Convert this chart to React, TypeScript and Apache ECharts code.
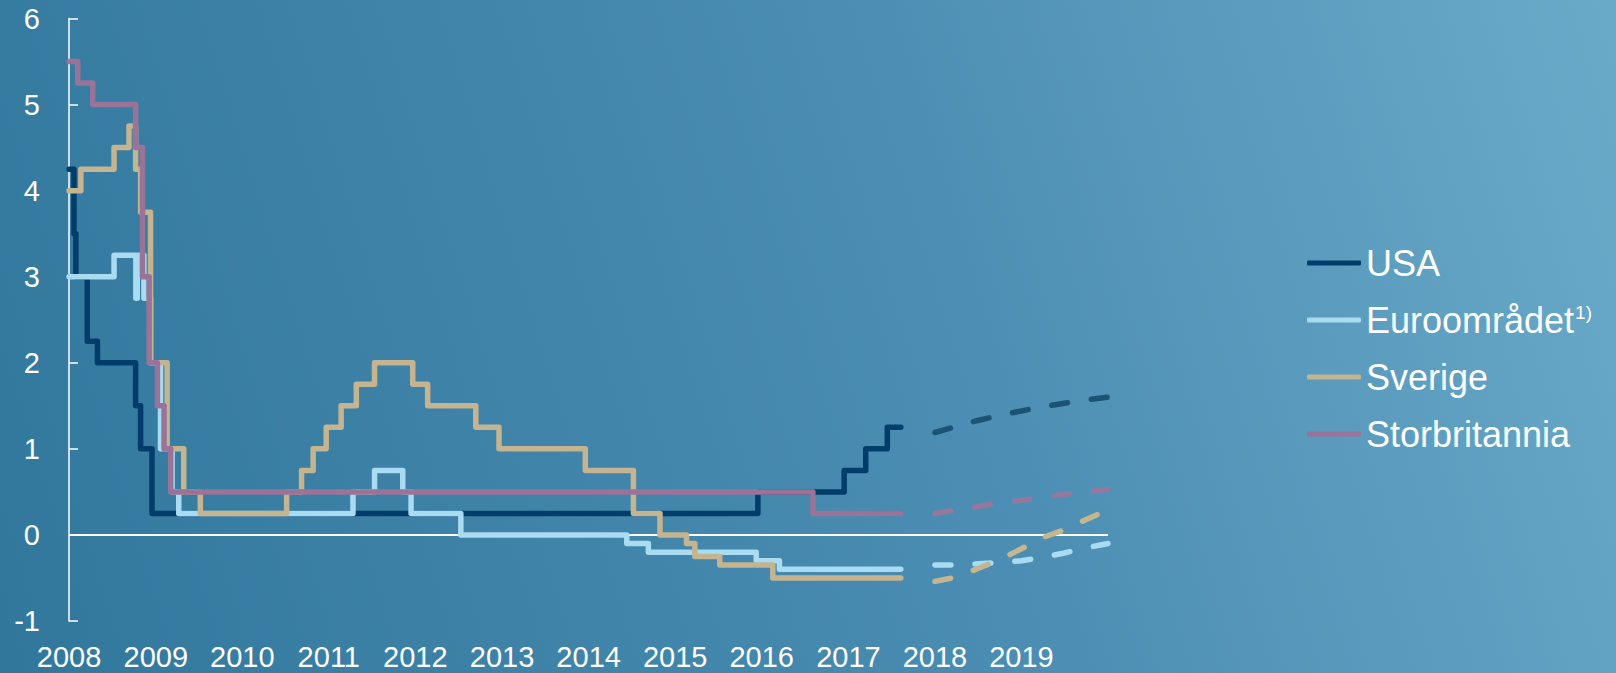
import React, { useEffect, useRef } from "react";
import * as echarts from "echarts";

// Policy rates, [date of change, rate in %]
const usaRates: [string, number][] = [
  ["2008-01-01", 4.25], ["2008-01-22", 3.5], ["2008-01-30", 3.0], ["2008-03-18", 2.25],
  ["2008-04-30", 2.0], ["2008-10-08", 1.5], ["2008-10-29", 1.0], ["2008-12-16", 0.25],
  ["2015-12-16", 0.5], ["2016-12-14", 0.75], ["2017-03-15", 1.0], ["2017-06-14", 1.25],
  ["2017-08-10", 1.25],
];
const euroRates: [string, number][] = [
  ["2008-01-01", 3.0], ["2008-07-09", 3.25], ["2008-10-09", 2.75], ["2008-10-15", 3.25],
  ["2008-11-12", 2.75], ["2008-12-10", 2.0], ["2009-01-21", 1.0], ["2009-03-11", 0.5],
  ["2009-04-08", 0.25], ["2011-04-13", 0.5], ["2011-07-13", 0.75], ["2011-11-09", 0.5],
  ["2011-12-14", 0.25], ["2012-07-11", 0.0], ["2014-06-11", -0.1], ["2014-09-10", -0.2],
  ["2015-12-09", -0.3], ["2016-03-16", -0.4], ["2017-08-10", -0.4],
];
const swedenRates: [string, number][] = [
  ["2008-01-01", 4.0], ["2008-02-20", 4.25], ["2008-07-09", 4.5], ["2008-09-10", 4.75],
  ["2008-10-08", 4.25], ["2008-10-29", 3.75], ["2008-12-10", 2.0], ["2009-02-18", 1.0],
  ["2009-04-29", 0.5], ["2009-07-08", 0.25], ["2010-07-07", 0.5], ["2010-09-08", 0.75],
  ["2010-10-27", 1.0], ["2010-12-21", 1.25], ["2011-02-22", 1.5], ["2011-04-27", 1.75],
  ["2011-07-13", 2.0], ["2011-12-21", 1.75], ["2012-02-22", 1.5], ["2012-09-12", 1.25],
  ["2012-12-19", 1.0], ["2013-12-18", 0.75], ["2014-07-09", 0.25], ["2014-10-29", 0.0],
  ["2015-02-18", -0.1], ["2015-03-25", -0.25], ["2015-07-08", -0.35], ["2016-02-17", -0.5],
  ["2017-08-10", -0.5],
];
const ukRates: [string, number][] = [
  ["2008-01-01", 5.5], ["2008-02-07", 5.25], ["2008-04-10", 5.0], ["2008-10-08", 4.5],
  ["2008-11-06", 3.0], ["2008-12-04", 2.0], ["2009-01-08", 1.5], ["2009-02-05", 1.0],
  ["2009-03-05", 0.5], ["2016-08-04", 0.25], ["2017-08-10", 0.25],
];

// Forecasts (market expectations), quarterly
const forecastDates = [
  "2018-01-01", "2018-04-01", "2018-07-01", "2018-10-01", "2019-01-01",
  "2019-04-01", "2019-07-01", "2019-10-01", "2020-01-01",
];
const usaForecast = [1.19, 1.26, 1.33, 1.39, 1.44, 1.49, 1.53, 1.57, 1.6];
const euroForecast = [-0.35, -0.35, -0.335, -0.32, -0.3, -0.26, -0.21, -0.15, -0.1];
const swedenForecast = [-0.54, -0.49, -0.39, -0.29, -0.16, -0.03, 0.06, 0.18, 0.29];
const ukForecast = [0.25, 0.29, 0.33, 0.37, 0.4, 0.44, 0.47, 0.5, 0.53];

const zeroLine: [string, number][] = [["2008-01-01", 0], ["2020-01-01", 0]];

const seriesNames = ["USA", "Euroområdet", "Sverige", "Storbritannia"];
const yMin = -1;
const yMax = 6;

const FONT = "'Liberation Sans', Arial, Helvetica, sans-serif";
const YEAR_MS = 365 * 24 * 3600 * 1000;

function pair(dates: string[], vals: number[]) {
  return dates.map((d, i) => [d, vals[i]]);
}

export default function App() {
  const ref = useRef<HTMLDivElement>(null);

  useEffect(() => {
    if (!ref.current) return;
    const chart = echarts.init(ref.current, null, { renderer: "svg" });

    const solid = (name: string, data: any, color: string) => ({
      name,
      type: "line",
      data,
      step: "end",
      showSymbol: false,
      symbol: "none",
      color,
      itemStyle: { color },
      lineStyle: { color, width: 5.5, cap: "round", join: "round" },
      z: 3,
    });
    const dashed = (data: any, color: string) => ({
      name: "",
      type: "line",
      data,
      showSymbol: false,
      symbol: "none",
      itemStyle: { color },
      lineStyle: { color, width: 5.5, type: [16, 24], cap: "round" },
      z: 3,
    });

    const option: any = {
      animation: false,
      textStyle: { fontFamily: FONT },
      grid: { left: 69, right: 508, top: 18.5, bottom: 52, containLabel: false },
      legend: {
        data: seriesNames,
        orient: "vertical",
        left: 1302,
        top: 238,
        itemWidth: 54,
        itemHeight: 5,
        itemGap: 17,
        icon: "roundRect",
        textStyle: {
          color: "#ffffff",
          fontSize: 36,
          lineHeight: 40,
          fontFamily: FONT,
          rich: {
            sup: { fontSize: 19, lineHeight: 40, verticalAlign: "top", color: "#ffffff", fontFamily: FONT, padding: [3, 0, 0, 1] },
          },
        },
        formatter: (name: string) => (name === "Euroområdet" ? "Euroområdet{sup|1)}" : name),
      },
      xAxis: {
        type: "time",
        min: "2008-01-01",
        max: "2020-01-01",
        minInterval: YEAR_MS,
        maxInterval: YEAR_MS * 1.01,
        axisLine: { show: false },
        axisTick: { show: false },
        splitLine: { show: false },
        axisLabel: {
          color: "#ffffff",
          fontSize: 29,
          lineHeight: 30,
          margin: 21,
          fontFamily: FONT,
          showMinLabel: true,
          showMaxLabel: false,
          hideOverlap: false,
          formatter: (v: number) => String(new Date(v).getFullYear()),
        },
      },
      yAxis: {
        type: "value",
        min: yMin,
        max: yMax,
        interval: 1,
        axisLine: { show: true, lineStyle: { color: "#ffffff", width: 1.5 } },
        axisTick: { show: true, inside: true, length: 9, lineStyle: { color: "#ffffff", width: 1.5 } },
        splitLine: { show: false },
        axisLabel: { color: "#ffffff", fontSize: 29, margin: 29, fontFamily: FONT },
      },
      series: [
        {
          name: "zero",
          type: "line",
          data: zeroLine,
          showSymbol: false,
          symbol: "none",
          silent: true,
          lineStyle: { color: "#ffffff", width: 2 },
          z: 2,
        },
        solid("USA", usaRates, "#003d6b"),
        solid("Euroområdet", euroRates, "#a9dbf1"),
        solid("Sverige", swedenRates, "#c4b48f"),
        solid("Storbritannia", ukRates, "#9a7398"),
        dashed(pair(forecastDates, usaForecast), "#1c5274"),
        dashed(pair(forecastDates, euroForecast), "#a9dbf1"),
        dashed(pair(forecastDates, swedenForecast), "#c6b68f"),
        dashed(pair(forecastDates, ukForecast), "#94799e"),
      ],
    };

    chart.setOption(option);
    return () => chart.dispose();
  }, []);

  return (
    <div
      style={{
        position: "fixed",
        left: 0,
        top: 0,
        width: 1616,
        height: 673,
        background: "linear-gradient(73deg, #31779c 0%, #4a8cb2 55%, #6aaac9 100%)",
      }}
    >
      <div ref={ref} style={{ width: 1616, height: 673 }} />
    </div>
  );
}
